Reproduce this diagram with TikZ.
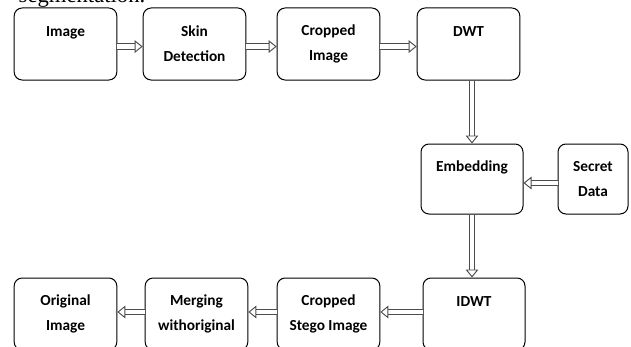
\documentclass[tikz,border=0pt]{standalone}
\usepackage{fontspec}
\setmainfont{Carlito}
\newfontfamily\paperfont{Liberation Serif}
\usetikzlibrary{arrows.meta}

\tikzset{
  blk/.style={draw, line width=0.75pt, rounded corners=6pt, align=center, inner sep=0pt,
    minimum width=77pt, minimum height=54pt, font=\fontsize{11.5}{18.75}\selectfont\bfseries},
  flow/.style={draw=black!70, line width=0.7pt, double=white, double distance=3.2pt,
    -{Triangle[open, length=6pt, width=9.5pt]}}
}

\begin{document}
\begin{tikzpicture}[x=0.75pt, y=-0.75pt]
    \useasboundingbox (0,0) rectangle (631,346);
    \clip (0,0) rectangle (631,346);
    \node[anchor=base west, font=\paperfont\fontsize{17}{20}\selectfont] (cap) at (14,3) {segmentation.};
    % top row
    \node[blk] (img) at (65.5,44) {Image\\\mbox{}};
    \node[blk] (skin) at (194.5,44) {Skin\\Detection};
    \node[blk] (crop) at (328.5,44) {Cropped\\Image};
    \node[blk] (dwt) at (468.5,44) {DWT\\\mbox{}};
    % middle
    \node[blk, minimum width=76.5pt, minimum height=52.5pt] (emb) at (472,179) {Embedding\\\mbox{}};
    \node[blk, minimum width=52.5pt, minimum height=52.5pt] (sec) at (593,179) {Secret\\Data};
    % bottom row
    \node[blk] (orig) at (65.5,314) {Original\\Image};
    \node[blk] (merge) at (196.5,314) {Merging\\withoriginal};
    \node[blk] (stego) at (328.5,314) {Cropped\\Stego Image};
    \node[blk, minimum width=76.5pt] (idwt) at (474,314) {IDWT\\\mbox{}};

    \draw[flow] ([yshift=-1.9pt]img.east) -- ([yshift=-1.9pt]skin.west);
    \draw[flow] ([yshift=-1.9pt]skin.east) -- ([yshift=-1.9pt]crop.west);
    \draw[flow] ([yshift=-1.9pt]crop.east) -- ([yshift=-1.9pt]dwt.west);
    \draw[flow] (emb.north |- dwt.south) -- (emb.north);
    \draw[flow] ([yshift=-3pt]sec.west) -- ([yshift=-3pt]emb.east);
    \draw[flow] (emb.south) -- (emb.south |- idwt.north);
    \draw[flow] ([yshift=1.5pt]idwt.west) -- ([yshift=1.5pt]stego.east);
    \draw[flow] ([yshift=1.5pt]stego.west) -- ([yshift=1.5pt]merge.east);
    \draw[flow] ([yshift=1.5pt]merge.west) -- ([yshift=1.5pt]orig.east);
\end{tikzpicture}
\end{document}
